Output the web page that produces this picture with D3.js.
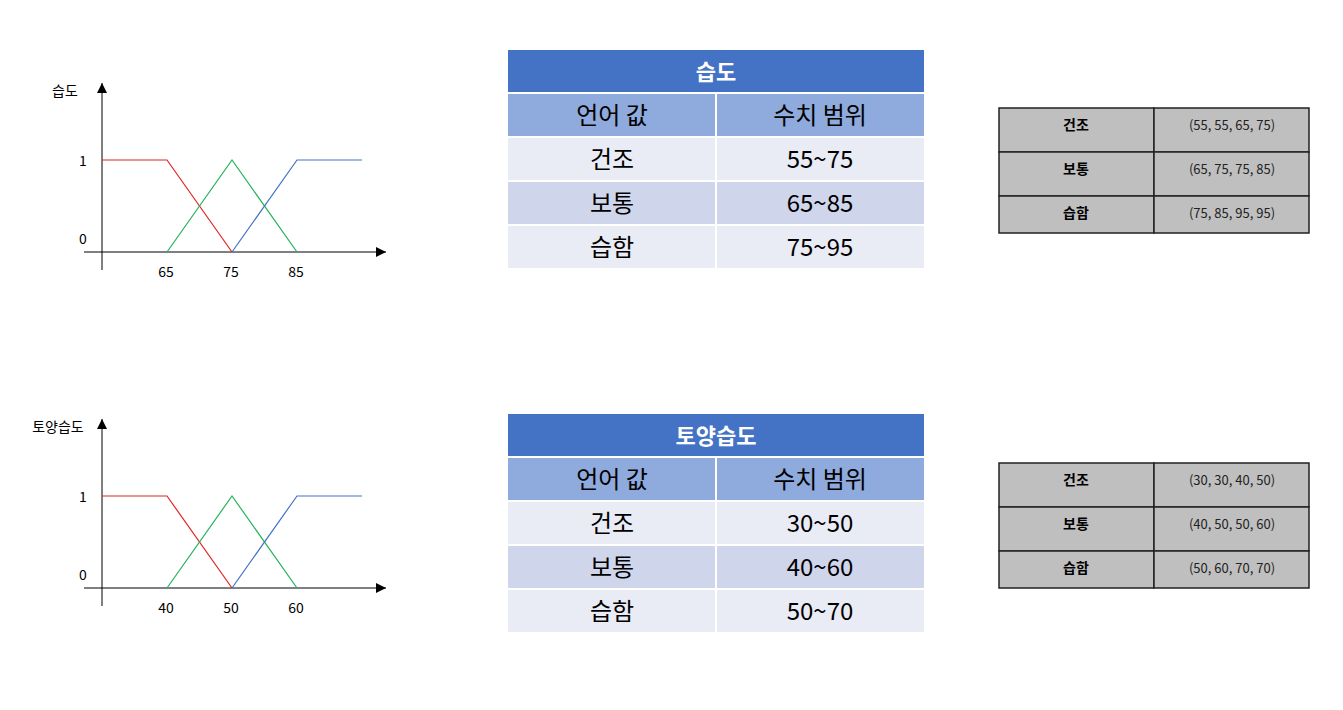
<!DOCTYPE html>
<html><head><meta charset="utf-8">
<script src="https://cdn.jsdelivr.net/npm/d3@7"></script>
<style>body{margin:0;background:#fff}svg{font-family:"Noto Sans CJK KR","Noto Sans",sans-serif}</style>
</head><body>
<svg id="c" width="1343" height="710"></svg>
<script>
// data
const labels = ["건조", "보통", "습함"];
const humidTitle = "습도";
const humidRanges = ["55~75", "65~85", "75~95"];
const humidParams = [[55, 55, 65, 75], [65, 75, 75, 85], [75, 85, 95, 95]];
const humidTicks = [65, 75, 85];
const soilTitle = "토양습도";
const soilRanges = ["30~50", "40~60", "50~70"];
const soilParams = [[30, 30, 40, 50], [40, 50, 50, 60], [50, 60, 70, 70]];
const soilTicks = [40, 50, 60];
const colors = ["#e32222", "#22b45a", "#4472c4"];

const svg = d3.select("#c");
svg.append("defs").append("marker").attr("id", "arr")
  .attr("viewBox", "0 0 10 10").attr("refX", 10).attr("refY", 5)
  .attr("markerWidth", 10).attr("markerHeight", 10).attr("markerUnits", "userSpaceOnUse")
  .attr("orient", "auto").append("path").attr("d", "M0,0L10,5L0,10z");

function chart(dy, title, params, ticks) {
  const g = svg.append("g").attr("transform", `translate(0,${dy})`);
  const dom = [params[0][0], params[2][3]];
  const x = d3.scaleLinear().domain(dom).range([102, 362]);
  const y = d3.scaleLinear().domain([0, 1]).range([252, 160]);
  // axes
  g.append("line").attr("x1", 102).attr("x2", 102).attr("y1", 270).attr("y2", 83)
    .attr("stroke", "#000").attr("marker-end", "url(#arr)");
  g.append("line").attr("x1", 84).attr("x2", 386).attr("y1", 252).attr("y2", 252)
    .attr("stroke", "#000").attr("marker-end", "url(#arr)");
  g.append("text").attr("x", title.length > 2 ? 58 : 65).attr("y", 96).attr("text-anchor", "middle")
    .style("font-size", "14px").text(title);
  g.append("text").attr("x", 83).attr("y", 166).attr("text-anchor", "middle").style("font-size", "14px").text("1");
  g.append("text").attr("x", 83).attr("y", 244).attr("text-anchor", "middle").style("font-size", "14px").text("0");
  g.selectAll(".tk").data(ticks).join("text").attr("class", "tk")
    .attr("x", d => x(d) - 1).attr("y", 277).attr("text-anchor", "middle")
    .style("font-size", "14px").text(d => d);
  const line = d3.line().x(d => x(d[0])).y(d => y(d[1]));
  g.selectAll(".mf").data(params).join("path").attr("class", "mf")
    .attr("d", p => line([[p[0], 1 * (p[0] === p[1])], [p[1], 1], [p[2], 1], [p[3], 1 * (p[2] === p[3])]]))
    .attr("fill", "none").attr("stroke", (d, i) => colors[i]).attr("stroke-width", 1.2);
}

function midTable(dy, title, ranges) {
  const g = svg.append("g").attr("transform", `translate(0,${dy})`);
  const cx = [508, 716], cw = [208, 208];
  g.append("rect").attr("x", 508).attr("y", 50).attr("width", 416).attr("height", 42).attr("fill", "#4472c4");
  g.append("text").attr("x", 716).attr("y", 80).attr("text-anchor", "middle").attr("fill", "#fff")
    .style("font-size", "22px").style("font-weight", "bold").text(title);
  const rows = [["언어 값", "수치 범위"]].concat(labels.map((l, i) => [l, ranges[i]]));
  const fills = ["#8faadc", "#e9ebf5", "#cfd5ea", "#e9ebf5"];
  rows.forEach((r, i) => {
    const yy = 94 + i * 44;
    r.forEach((t, j) => {
      g.append("rect").attr("x", cx[j] + (j ? 1 : 0)).attr("y", yy).attr("width", cw[j] - 1).attr("height", 42).attr("fill", fills[i]);
      g.append("text").attr("x", cx[j] + cw[j] / 2).attr("y", yy + 30).attr("text-anchor", "middle")
        .style("font-size", "24px").text(t);
    });
  });
}

function sideTable(dy, params) {
  const g = svg.append("g").attr("transform", `translate(0,${dy})`);
  const ys = [108, 152, 196, 233];
  labels.forEach((l, i) => {
    [[999, 155], [1154, 155]].forEach(([xx, w]) => {
      g.append("rect").attr("x", xx).attr("y", ys[i]).attr("width", w).attr("height", ys[i + 1] - ys[i])
        .attr("fill", "#bfbfbf").attr("stroke", "#222").attr("stroke-width", 1.5);
    });
    g.append("text").attr("x", 1076).attr("y", ys[i] + 22).attr("text-anchor", "middle")
      .style("font-size", "14px").style("font-weight", "bold").text(l);
    g.append("text").attr("x", 1232).attr("y", ys[i] + 22).attr("text-anchor", "middle")
      .style("font-size", "13px").attr("fill", "#222").text("(" + params[i].join(", ") + ")");
  });
}

chart(0, humidTitle, humidParams, humidTicks);
chart(336, soilTitle, soilParams, soilTicks);
midTable(0, humidTitle, humidRanges);
midTable(364, soilTitle, soilRanges);
sideTable(0, humidParams);
sideTable(355, soilParams);
</script>
</body></html>
